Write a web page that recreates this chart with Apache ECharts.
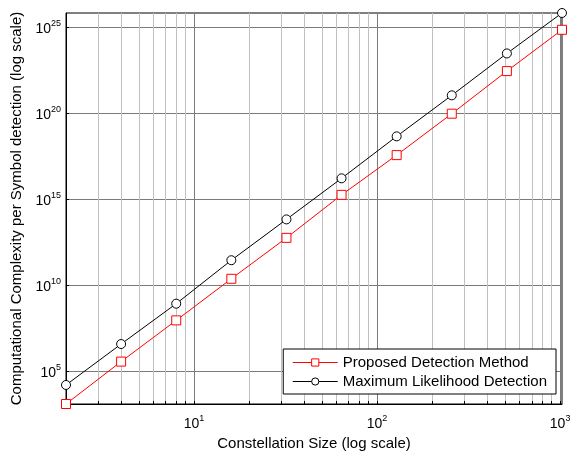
<!DOCTYPE html>
<html>
<head>
<meta charset="utf-8">
<script src="https://cdn.jsdelivr.net/npm/echarts@6/dist/echarts.min.js"></script>
<style>
html, body { margin: 0; padding: 0; background: #fff; }
#chart { width: 570px; height: 451px; }
</style>
</head>
<body>
<div id="chart"></div>
<script>
// constellation size M
const sizes = [2, 4, 8, 16, 32, 64, 128, 256, 512, 1024];
// complexity per symbol detection
const proposed = [1.3e3, 3.8e5, 9.5e7, 2.5e10, 6.0e12, 1.9e15, 3.9e17, 1.0e20, 3.0e22, 7.6e24];
const mlDetection = [1.66e4, 4.0e6, 8.9e8, 3.0e11, 7.1e13, 1.74e16, 4.8e18, 1.17e21, 3.2e23, 7.2e25];

// grid / tick positions
const xTicks = [2, 3, 4, 5, 6, 7, 8, 9, 10, 20, 30, 40, 50, 60, 70, 80, 90,
  100, 200, 300, 400, 500, 600, 700, 800, 900, 1000];
const xLabels = [10, 100, 1000];
const yTicks = [1e5, 1e10, 1e15, 1e20, 1e25];

const font = 'Liberation Sans, Arial, Helvetica, sans-serif';
const minorGrid = '#c0c0c0';
const majorGrid = '#7a7a7a';

function pow10(v) {
  return '{b|10}{s|' + Math.round(Math.log10(v)) + '}';
}
const richSup = {
  b: { fontSize: 14, fontFamily: font, color: '#000', verticalAlign: 'bottom' },
  s: { fontSize: 9, fontFamily: font, color: '#000', verticalAlign: 'bottom', padding: [0, 0, 8, 0] }
};

let chart = echarts.init(document.getElementById('chart'));

chart.setOption({
  animation: false,
  backgroundColor: '#fff',
  grid: {
    left: 66, right: 8, top: 13, bottom: 47,
    show: true, borderColor: '#000', borderWidth: 1,
    containLabel: false,
    outerBoundsMode: 'none'
  },
  legend: {
    orient: 'vertical',
    right: 14, top: 349,
    padding: [6, 9, 5, 9],
    itemWidth: 45, itemHeight: 9, itemGap: 4,
    backgroundColor: '#fff',
    borderColor: '#000', borderWidth: 1,
    itemStyle: { borderWidth: 1 },
    lineStyle: { width: 1 },
    textStyle: { fontFamily: font, fontSize: 15, color: '#000' },
    data: ['Proposed Detection Method', 'Maximum Likelihood Detection']
  },
  xAxis: {
    type: 'log',
    min: sizes[0],
    max: sizes[sizes.length - 1],
    name: 'Constellation Size (log scale)',
    nameLocation: 'middle',
    nameGap: 30,
    nameTextStyle: { fontFamily: font, fontSize: 15, color: '#000' },
    axisLine: { show: true, lineStyle: { color: '#000', width: 1 } },
    axisTick: { show: true, inside: true, length: 3, customValues: xTicks, lineStyle: { color: '#000' } },
    axisLabel: { customValues: xLabels, margin: 10, formatter: pow10, rich: richSup },
    splitLine: {
      show: true,
      // 2..9 minor, then the decade line
      lineStyle: { color: [minorGrid, minorGrid, minorGrid, minorGrid, minorGrid, minorGrid, minorGrid, minorGrid, majorGrid], width: 1 }
    }
  },
  yAxis: {
    type: 'log',
    min: proposed[0],
    max: mlDetection[mlDetection.length - 1],
    name: 'Computational Complexity per Symbol detection (log scale)',
    nameLocation: 'middle',
    nameGap: 40,
    nameTextStyle: { fontFamily: font, fontSize: 15, color: '#000' },
    axisLine: { show: true, lineStyle: { color: '#000', width: 1 } },
    axisTick: { show: true, inside: true, length: 3, customValues: yTicks, lineStyle: { color: '#000' } },
    axisLabel: { customValues: yTicks, margin: 5, formatter: pow10, rich: richSup },
    splitLine: { show: true, lineStyle: { color: majorGrid, width: 1 } }
  },
  series: [
    {
      name: 'Proposed Detection Method',
      type: 'line',
      data: sizes.map((m, i) => [m, proposed[i]]),
      symbol: 'rect',
      symbolSize: 9,
      clip: false,
      color: '#ff0000',
      lineStyle: { color: '#ff0000', width: 1 },
      itemStyle: { color: '#fff', borderColor: '#ff0000', borderWidth: 1 }
    },
    {
      name: 'Maximum Likelihood Detection',
      type: 'line',
      data: sizes.map((m, i) => [m, mlDetection[i]]),
      symbol: 'circle',
      symbolSize: 9,
      clip: false,
      color: '#000',
      lineStyle: { color: '#000', width: 1 },
      itemStyle: { color: '#fff', borderColor: '#000', borderWidth: 1 }
    }
  ]
});
</script>
</body>
</html>
